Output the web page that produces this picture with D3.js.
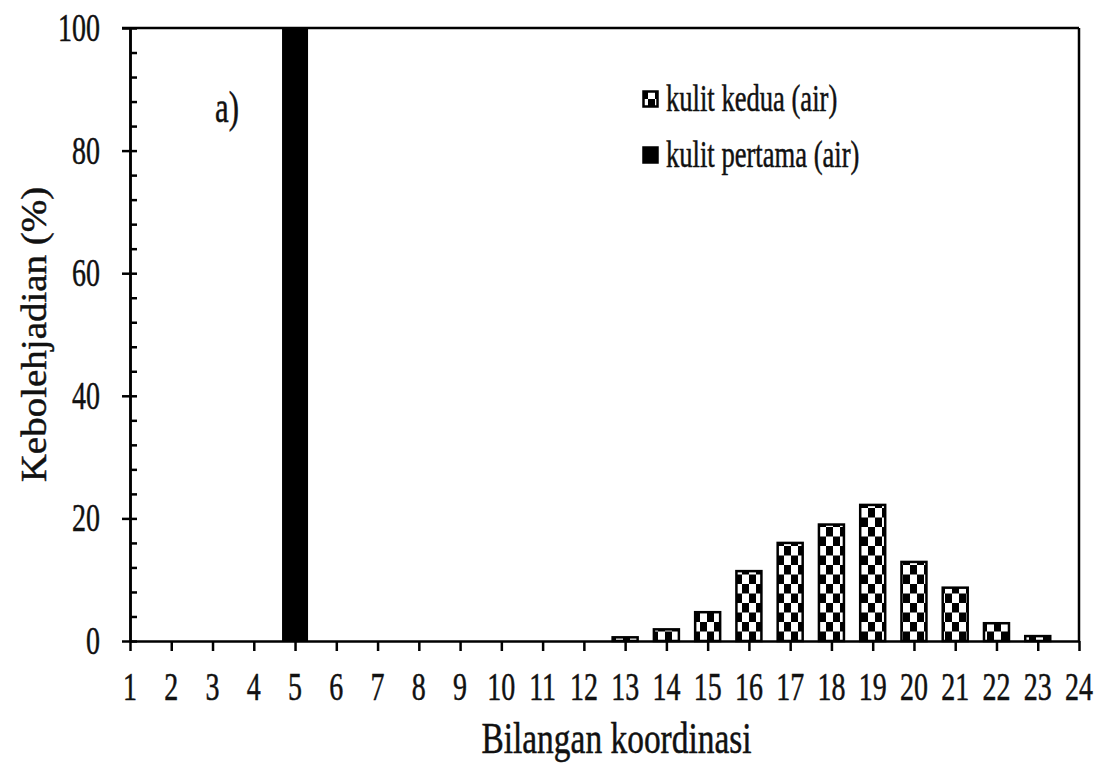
<!DOCTYPE html>
<html>
<head>
<meta charset="utf-8">
<script src="https://cdn.jsdelivr.net/npm/d3@7"></script>
<style>
  html, body { margin: 0; padding: 0; background: #fff; }
  svg { display: block; }
</style>
</head>
<body>
<svg id="chart" width="1099" height="764"></svg>
<script>
// ---- data ----
const xTicks = [1,2,3,4,5,6,7,8,9,10,11,12,13,14,15,16,17,18,19,20,21,22,23,24];
const yTicks = [0,20,40,60,80,100];
const firstShellX = [5];
const firstShellValues = [100];
const secondShellX = [13,14,15,16,17,18,19,20,21,22,23];
const secondShellValues = [0.6,1.9,4.7,11.4,16.0,19.0,22.2,12.9,8.7,2.9,0.8];
const seriesNames = ["kulit kedua (air)", "kulit pertama (air)"];
const xTitle = "Bilangan koordinasi";
const yTitle = "Kebolehjadian (%)";
const panelLabel = "a)";

// ---- layout ----
const W = 1099, H = 764;
const m = {left: 130, right: 20, top: 28, bottom: 123};
const svg = d3.select("#chart");
const x = d3.scaleLinear().domain([1, 24]).range([m.left, W - m.right]);
const y = d3.scaleLinear().domain([0, 100]).range([H - m.bottom, m.top]);
const barW = 25;
const sx = 0.7;
const FONT = "'Liberation Serif', 'Times New Roman', Tinos, 'DejaVu Serif', serif";

const defs = svg.append("defs");
const pat = defs.append("pattern").attr("id", "checker")
  .attr("patternUnits", "userSpaceOnUse").attr("width", 14).attr("height", 19)
  .attr("x", 0).attr("y", y(0));
pat.append("rect").attr("width", 14).attr("height", 19).attr("fill", "#fff");
pat.append("rect").attr("x", 0).attr("y", 0).attr("width", 7).attr("height", 9.5).attr("fill", "#000");
pat.append("rect").attr("x", 7).attr("y", 9.5).attr("width", 7).attr("height", 9.5).attr("fill", "#000");

// bars: second shell (checkered)
svg.append("g").selectAll("rect").data(secondShellX).join("rect")
  .attr("x", (d) => x(d) - barW / 2)
  .attr("y", (d, i) => y(secondShellValues[i]))
  .attr("width", barW)
  .attr("height", (d, i) => y(0) - y(secondShellValues[i]))
  .attr("fill", "url(#checker)")
  .attr("stroke", "#000").attr("stroke-width", 2.5);

// bars: first shell (solid black)
svg.append("g").selectAll("rect").data(firstShellX).join("rect")
  .attr("x", (d) => x(d) - barW / 2 - 0.5)
  .attr("y", (d, i) => y(firstShellValues[i]))
  .attr("width", barW + 1)
  .attr("height", (d, i) => y(0) - y(firstShellValues[i]))
  .attr("fill", "#000");

// axes
const xAxis = svg.append("g").attr("transform", `translate(0,${y(0)})`)
  .call(d3.axisBottom(x).tickValues(xTicks).tickSize(10).tickSizeOuter(0).tickFormat(""));
const yAxisOuter = svg.append("g").attr("transform", `translate(${x(1)},0)`)
  .call(d3.axisLeft(y).tickValues(yTicks).tickSize(8).tickSizeOuter(0).tickFormat(""));
const yAxisInner = svg.append("g").attr("transform", `translate(${x(1)},0)`)
  .call(d3.axisLeft(y).tickValues(d3.range(0, 101, 4)).tickSize(-7).tickSizeOuter(0).tickFormat(""));
[xAxis, yAxisOuter, yAxisInner].forEach(g => {
  g.selectAll("line").attr("stroke", "#000").attr("stroke-width", 2.5);
  g.select(".domain").attr("stroke", "#000").attr("stroke-width", 2.5);
});
// frame (top and right)
svg.append("line").attr("x1", x(1) - 8).attr("x2", x(24)).attr("y1", y(100)).attr("y2", y(100))
  .attr("stroke", "#000").attr("stroke-width", 2.5);
svg.append("line").attr("x1", x(24)).attr("x2", x(24)).attr("y1", y(100)).attr("y2", y(0))
  .attr("stroke", "#000").attr("stroke-width", 2.5);

function label(sel) {
  return sel.attr("font-family", FONT).attr("fill", "#111")
    .attr("stroke", "#111").attr("stroke-width", 0.5);
}

// tick labels
svg.append("g").selectAll("text").data(xTicks).join("text")
  .call(label)
  .attr("transform", (d) => `translate(${x(d)},${y(0) + 59}) scale(${sx},1)`)
  .attr("text-anchor", "middle").attr("font-size", 40).text((d) => d);
svg.append("g").selectAll("text").data(yTicks).join("text")
  .call(label)
  .attr("transform", (d) => `translate(${x(1) - 30},${y(d) + 13}) scale(${sx},1)`)
  .attr("text-anchor", "end").attr("font-size", 40).text((d) => d);

// axis titles
svg.append("text").call(label)
  .attr("transform", `translate(${(x(1) + x(24)) / 2 + 12},${H - 11}) scale(0.76,1)`)
  .attr("text-anchor", "middle").attr("font-size", 44).text(xTitle);
svg.append("text").call(label)
  .attr("transform", `translate(46,${(y(0) + y(100)) / 2}) rotate(-90) scale(1,0.9)`)
  .attr("text-anchor", "middle").attr("font-size", 39).text(yTitle);

// panel label
svg.append("text").call(label)
  .attr("transform", `translate(${x(3.35)},${y(84.6)}) scale(${sx},1)`)
  .attr("text-anchor", "middle").attr("font-size", 44).text(panelLabel);

// legend
const leg = svg.append("g").attr("transform", `translate(642,0)`);
const legY = [90, 146];
const legFill = ["url(#checker2)", "#000"];
const pat2 = defs.append("pattern").attr("id", "checker2")
  .attr("patternUnits", "userSpaceOnUse").attr("width", 14).attr("height", 16)
  .attr("x", 642 + 8).attr("y", 90 + 9);
pat2.append("rect").attr("width", 14).attr("height", 16).attr("fill", "#fff");
pat2.append("rect").attr("x", 0).attr("y", 0).attr("width", 7).attr("height", 8).attr("fill", "#000");
pat2.append("rect").attr("x", 7).attr("y", 8).attr("width", 7).attr("height", 8).attr("fill", "#000");
seriesNames.forEach((name, i) => {
  leg.append("rect").attr("x", 1.5).attr("y", legY[i] + 1.5).attr("width", 14).attr("height", 15)
    .attr("fill", legFill[i]).attr("stroke", "#000").attr("stroke-width", 2.5);
  leg.append("text").call(label)
    .attr("transform", `translate(24,${legY[i] + 21}) scale(0.7,1)`)
    .attr("font-size", 38).text(name);
});
</script>
</body>
</html>
